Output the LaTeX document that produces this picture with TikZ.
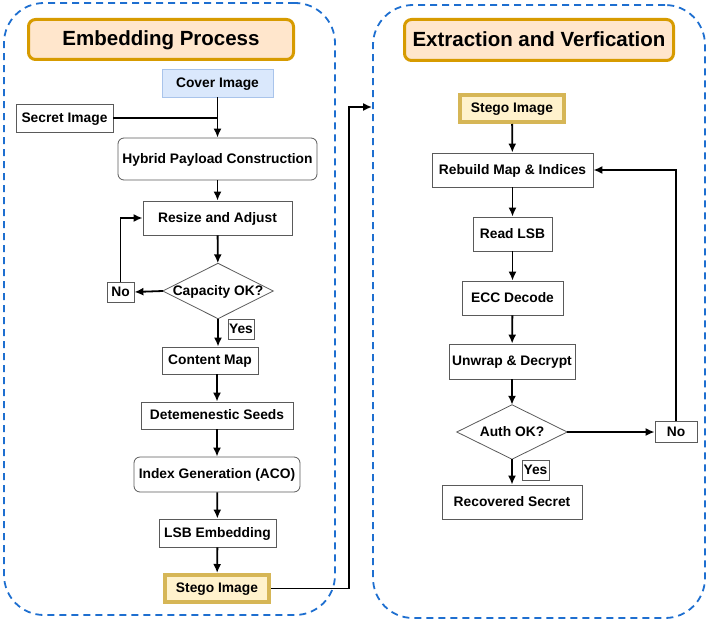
\documentclass[tikz,border=0pt]{standalone}
\usepackage{fontspec}
\setmainfont{Liberation Sans}
\usetikzlibrary{arrows.meta}
\definecolor{dashblue}{HTML}{1E6FD0}
\definecolor{titleline}{HTML}{D79B00}
\definecolor{titlefill}{HTML}{FFE6CC}
\definecolor{coverfill}{HTML}{DAE8FC}
\definecolor{coverline}{HTML}{A9C4EB}
\definecolor{stegoline}{HTML}{D6B656}
\definecolor{stegofill}{HTML}{FFF2CC}
\definecolor{boxgray}{HTML}{5A5A5A}

\begin{document}
\begin{tikzpicture}[x=1pt, y=-1pt,
  every node/.style={font=\bfseries\fontsize{13.8}{16}\selectfont, inner sep=1pt, text height=9.9pt, text depth=1.6pt},
  cont/.style={draw=dashblue, line width=1.8pt, dash pattern=on 7pt off 5pt, rounded corners=40pt},
  title/.style={draw=titleline, fill=titlefill, line width=3pt, rounded corners=7pt, font=\bfseries\fontsize{20.5}{24}\selectfont, text height=14.7pt, text depth=2pt},
  box/.style={draw=boxgray, fill=white, line width=0.8pt},
  rbox/.style={box, rounded corners=6pt},
  cover/.style={draw=coverline, fill=coverfill, line width=0.8pt},
  stego/.style={draw=stegoline, fill=stegofill, line width=4pt},
  tag/.style={box, minimum height=20pt},
  dia/.style={},
  line/.style={line width=1.8pt},
  arr/.style={line width=1.8pt, -{Latex[length=9pt, width=8pt]}}]
  \useasboundingbox (0,0) rectangle (708,623);

  \node[cont, minimum width=331pt, minimum height=612pt] (cl) at (169.5,309) {};
  \node[cont, minimum width=332pt, minimum height=613pt] (cr) at (539,311.5) {};
  \node[title, minimum width=265pt, minimum height=40pt] (t1) at (161,39.5) {Embedding Process};
  \node[title, minimum width=269pt, minimum height=41pt] (t2) at (539,40) {Extraction and Verfication};

  \node[cover, minimum width=111pt, minimum height=28pt] (cover) at (217.5,83) {Cover Image};
  \node[box, minimum width=97pt, minimum height=28pt] (secret) at (64.5,118) {Secret Image};
  \node[rbox, minimum width=199pt, minimum height=42pt] (hybrid) at (217.5,159) {Hybrid Payload Construction};
  \node[box, minimum width=149pt, minimum height=34pt] (resize) at (217.5,218) {Resize and Adjust};
  \node[dia, minimum width=110pt, minimum height=55pt] (cap) at (218,291) {Capacity OK?};
  \node[tag, minimum width=27pt] (noA) at (120.5,292) {No};
  \node[tag, minimum width=26pt] (yesA) at (241,329) {Yes};
  \node[box, minimum width=96pt, minimum height=27pt] (cmap) at (210,360.5) {Content Map};
  \node[box, minimum width=152pt, minimum height=27pt] (seeds) at (217,415.5) {Detemenestic Seeds};
  \node[rbox, minimum width=166pt, minimum height=35pt] (index) at (217,474.5) {Index Generation (ACO)};
  \node[box, minimum width=117pt, minimum height=28pt] (lsb) at (217.5,533) {LSB Embedding};
  \node[stego, minimum width=104pt, minimum height=27pt] (stegoA) at (217,588.5) {Stego Image};

  \node[stego, minimum width=104pt, minimum height=27pt] (stegoB) at (512,108.5) {Stego Image};
  \node[box, minimum width=161pt, minimum height=34pt] (rebuild) at (512.5,170) {Rebuild Map \& Indices};
  \node[box, minimum width=79pt, minimum height=34pt] (readlsb) at (512.5,234) {Read LSB};
  \node[box, minimum width=101pt, minimum height=34pt] (ecc) at (512.5,298) {ECC Decode};
  \node[box, minimum width=126pt, minimum height=35pt] (unwrap) at (512,361.5) {Unwrap \& Decrypt};
  \node[dia, minimum width=110pt, minimum height=54pt] (auth) at (512,432) {Auth OK?};
  \node[tag, minimum width=42pt, minimum height=21pt] (noB) at (676,432) {No};
  \node[tag, minimum width=27pt] (yesB) at (535.5,470) {Yes};
  \node[box, minimum width=140pt, minimum height=34pt] (recov) at (512,502) {Recovered Secret};
  \coordinate (jump) at (349,107);

  \draw[draw=boxgray, line width=0.8pt] (cap.west) -- (cap.north) -- (cap.east) -- (cap.south) -- cycle;
  \draw[draw=boxgray, line width=0.8pt] (auth.west) -- (auth.north) -- (auth.east) -- (auth.south) -- cycle;

  \draw[line] (secret.east) -- (secret.east -| cover.south);
  \draw[arr] (cover) -- (hybrid);
  \draw[arr] (hybrid) -- (resize);
  \draw[arr] (resize) -- (cap);
  \draw[arr] (cap.west) -- (noA.east);
  \draw[arr] (noA.north) |- (resize.west);
  \draw[arr] (cap.south) -- (cap.south |- cmap.north);
  \draw[arr] (seeds.north |- cmap.south) -- (seeds.north);
  \draw[arr] (seeds) -- (index);
  \draw[arr] (index) -- (lsb);
  \draw[arr] (lsb) -- (stegoA);
  \draw[arr] (stegoA.east) -| (jump) -- (jump -| cr.west);

  \draw[arr] (stegoB) -- (rebuild);
  \draw[arr] (rebuild) -- (readlsb);
  \draw[arr] (readlsb) -- (ecc);
  \draw[arr] (ecc) -- (unwrap);
  \draw[arr] (unwrap) -- (auth);
  \draw[arr] (auth.east) -- (noB.west);
  \draw[arr] (noB.north) |- (rebuild.east);
  \draw[arr] (auth.south) -- (recov.north);
\end{tikzpicture}
\end{document}
